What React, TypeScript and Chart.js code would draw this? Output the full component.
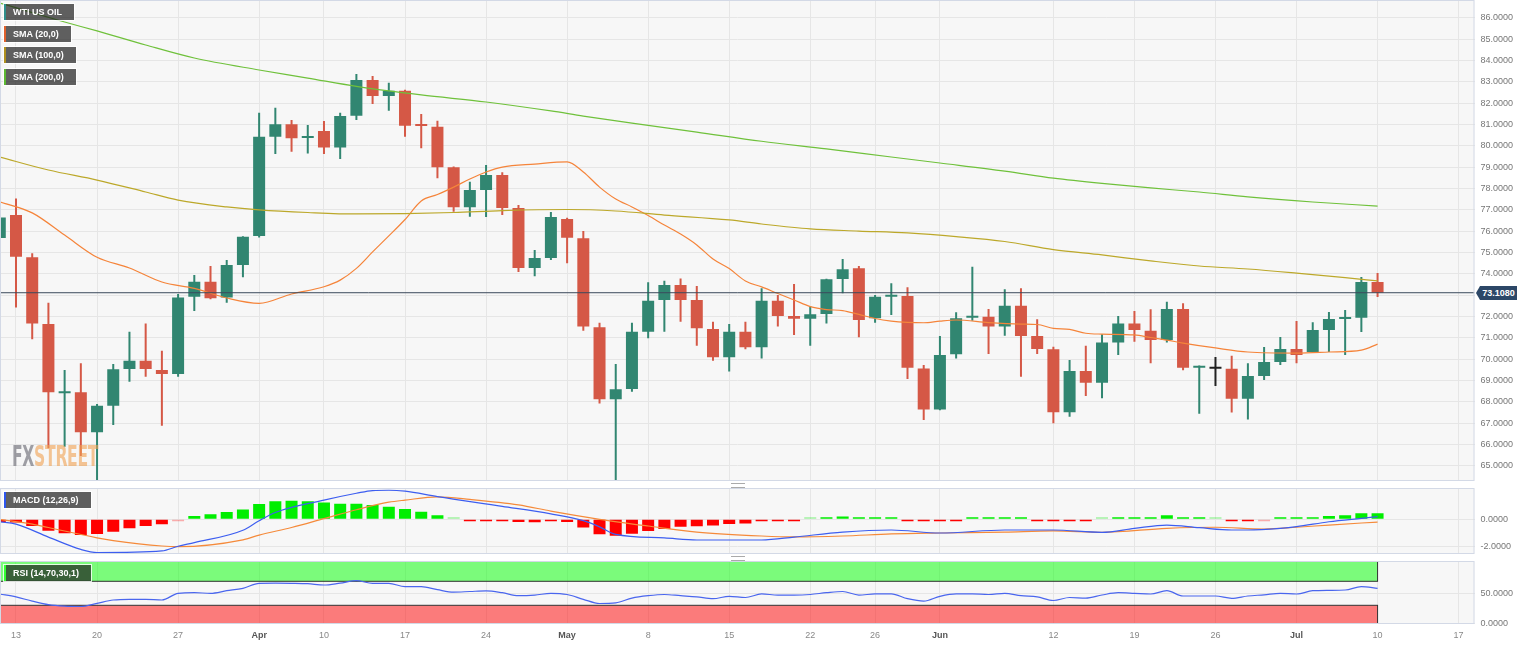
import React, { useEffect, useRef } from "react";
import { Chart, registerables } from "chart.js";

Chart.register(...registerables);

const FONT = "'Liberation Sans', Arial, Helvetica, sans-serif";

// Trading-day index: -1 = Fri 10 Mar 2023, 0 = Mon 13 Mar ... 84 = Mon 10 Jul
const FIRST_INDEX = -1;
const opens = [
  75.67, 76.75, 74.77, 71.64, 68.40, 68.44, 66.57, 67.81, 69.53, 69.92, 69.49,
  69.30, 72.92, 73.62, 72.89, 74.41, 75.77, 80.42, 81.00, 80.36, 80.69, 79.92,
  81.41, 83.08, 82.33, 82.58, 80.96, 80.89, 78.99, 77.11, 77.92, 78.63, 77.08,
  74.27, 74.74, 76.56, 75.66, 71.49, 68.11, 68.60, 71.28, 72.77, 73.47, 72.77,
  71.41, 70.08, 71.28, 70.55, 72.73, 72.02, 71.89, 72.11, 73.75, 74.25, 71.91,
  72.92, 72.95, 69.56, 67.64, 70.22, 71.93, 71.98, 71.52, 72.50, 71.08, 70.46,
  67.50, 69.44, 68.89, 70.78, 71.67, 71.33, 70.89, 72.35, 69.59, 69.55, 69.55,
  68.14, 69.20, 69.86, 70.47, 70.33, 71.36, 71.88, 71.93, 73.61,
];
const highs = [
  77.22, 77.53, 74.96, 72.64, 69.49, 69.80, 67.89, 69.77, 71.28, 71.67, 70.39,
  73.05, 73.94, 74.36, 74.64, 75.76, 81.55, 81.78, 81.20, 80.97, 81.16, 81.55,
  83.36, 83.27, 82.95, 82.62, 81.49, 81.17, 79.02, 78.31, 79.10, 78.76, 77.22,
  75.11, 76.89, 76.62, 76.00, 71.70, 69.77, 71.70, 73.60, 73.67, 73.78, 73.42,
  71.75, 71.64, 71.75, 73.32, 73.00, 73.52, 72.49, 73.76, 74.69, 74.36, 73.00,
  73.55, 73.36, 69.72, 71.08, 72.19, 74.33, 72.35, 73.27, 73.32, 71.86, 70.58,
  69.95, 70.62, 71.16, 72.02, 72.25, 72.33, 72.69, 72.62, 69.70, 70.10, 70.15,
  69.80, 70.56, 71.03, 71.78, 71.73, 72.20, 72.30, 73.85, 74.03,
];
const lows = [
  74.88, 72.41, 70.93, 65.82, 65.89, 65.45, 64.10, 66.91, 68.94, 69.17, 66.87,
  69.17, 72.25, 72.80, 72.64, 73.83, 75.70, 79.61, 79.72, 79.64, 79.61, 79.38,
  81.20, 81.95, 81.64, 80.42, 79.88, 78.47, 76.91, 76.67, 76.66, 76.75, 74.08,
  73.88, 74.64, 74.49, 71.33, 67.92, 63.64, 68.47, 70.97, 71.28, 71.75, 70.62,
  69.92, 69.41, 70.46, 70.03, 71.52, 71.13, 70.62, 71.67, 73.08, 71.02, 71.70,
  72.06, 69.06, 67.14, 67.60, 70.03, 71.80, 70.24, 71.09, 69.17, 70.24, 66.99,
  67.30, 68.27, 68.16, 70.19, 70.81, 69.80, 70.78, 69.48, 67.43, 68.74, 67.49,
  67.17, 69.02, 69.72, 69.80, 70.33, 70.33, 70.19, 71.27, 72.91,
];
const closes = [
  76.63, 74.80, 71.67, 68.44, 68.46, 66.57, 67.81, 69.52, 69.92, 69.53, 69.30,
  72.89, 73.62, 72.85, 74.41, 75.73, 80.42, 81.00, 80.35, 80.45, 79.92, 81.39,
  83.08, 82.33, 82.58, 80.94, 80.92, 78.99, 77.11, 77.92, 78.63, 77.08, 74.27,
  74.74, 76.66, 75.69, 71.52, 68.11, 68.58, 71.28, 72.73, 73.47, 72.77, 71.44,
  70.08, 71.28, 70.55, 72.73, 72.02, 71.89, 72.10, 73.74, 74.21, 71.83, 72.92,
  72.96, 69.59, 67.64, 70.19, 71.91, 71.97, 71.52, 72.50, 71.08, 70.47, 67.50,
  69.44, 68.89, 70.78, 71.67, 71.36, 70.89, 72.35, 69.59, 69.62, 69.55, 68.14,
  69.20, 69.86, 70.47, 70.19, 71.36, 71.88, 71.93, 73.61, 73.108,
];
const LAST_PRICE = 73.108;

const sma20Idx = [
  -1, 1, 3, 5, 7, 9, 11, 13, 15, 17, 19, 20, 21, 22, 23, 24, 25, 26, 27, 28, 29,
  30, 32, 34, 35, 36, 37, 38, 39, 40, 41, 42, 43, 44, 45, 46, 47, 48, 49, 50, 51,
  52, 53, 54, 55, 56, 57, 58, 60, 62, 63, 64, 65, 66, 67, 69, 70, 71, 72, 74, 76,
  79, 81, 83, 84,
];
const sma20Val = [
  77.37, 76.85, 75.81, 74.77, 74.27, 73.61, 73.31, 72.86, 72.61, 73.05, 73.39,
  73.70, 74.25, 75.02, 75.77, 76.54, 77.41, 77.71, 78.06, 78.44, 78.77, 79.0,
  79.14, 79.24, 78.77, 78.06, 77.5, 77.13, 76.73, 76.28, 75.86, 75.35, 74.69,
  74.24, 73.66, 73.38, 73.07, 72.77, 72.46, 72.32, 72.27, 72.09, 71.9, 71.78,
  71.72, 71.7, 71.78, 71.83, 71.71, 71.64, 71.62, 71.44, 71.39, 71.21, 71.17,
  71.13, 71.01, 70.89, 70.75, 70.52, 70.33, 70.28, 70.33, 70.42, 70.7,
];
const sma100Idx = [
  -1, 2, 5, 8, 10, 13, 15, 18, 21, 24, 27, 30, 34, 37, 40, 44, 46, 49, 52, 55,
  58, 61, 64, 67, 70, 73, 76, 79, 82, 84,
];
const sma100Val = [
  79.47, 78.86, 78.39, 77.83, 77.45, 77.13, 76.99, 76.87, 76.8, 76.82, 76.87,
  76.96, 77.01, 76.94, 76.75, 76.52, 76.33, 76.1, 76.0, 75.91, 75.74, 75.51,
  75.13, 74.88, 74.6, 74.36, 74.22, 74.03, 73.82, 73.66,
];
const sma200Idx = [
  -1, 1, 3, 5, 8, 11, 15, 18, 21, 25, 29, 33, 35, 38, 42, 46, 50, 54, 57, 61, 64,
  67, 70, 73, 76, 80, 84,
];
const sma200Val = [
  86.69, 86.24, 85.8, 85.38, 84.72, 84.11, 83.55, 83.17, 82.78, 82.38, 82.05,
  81.63, 81.39, 81.06, 80.64, 80.21, 79.85, 79.47, 79.19, 78.81, 78.48, 78.23,
  78.02, 77.83, 77.6, 77.36, 77.17,
];

const macdHist = [
  -0.2, -0.24, -0.49, -0.83, -1.02, -1.14, -1.07, -0.9, -0.66, -0.49, -0.36,
  -0.03, 0.24, 0.36, 0.54, 0.71, 1.12, 1.31, 1.36, 1.31, 1.22, 1.14, 1.14, 1.05,
  0.92, 0.75, 0.55, 0.3, 0.03, -0.08, -0.12, -0.15, -0.2, -0.22, -0.15, -0.2,
  -0.6, -1.1, -1.2, -1.05, -0.85, -0.7, -0.55, -0.5, -0.45, -0.35, -0.3, -0.15,
  -0.1, -0.05, 0.02, 0.1, 0.2, 0.15, 0.12, 0.1, -0.05, -0.15, -0.12, -0.05, 0.05,
  0.06, 0.08, 0.05, -0.05, -0.12, -0.1, -0.08, 0.03, 0.08, 0.1, 0.1, 0.29, 0.08,
  0.07, 0.03, -0.08, -0.07, -0.03, 0.05, 0.06, 0.12, 0.24, 0.29, 0.44, 0.44,
];
const macdIdx = [
  -1, 0, 2, 4, 5, 9, 10, 11, 14, 15, 16, 19, 21, 22, 23, 24, 26, 30, 33, 35, 36,
  37, 40, 42, 46, 48, 51, 54, 57, 61, 64, 67, 69, 71, 73, 75, 76, 78, 79, 81, 83,
  84,
];
const macdVal = [
  -0.18, -0.35, -1.3, -2.2, -2.43, -2.31, -1.97, -1.7, -0.8, -0.1, 0.5, 1.4, 1.9,
  2.1, 2.12, 2.05, 1.65, 0.95, 0.4, -0.1, -0.55, -1.1, -1.36, -1.51, -1.51, -1.3,
  -0.93, -0.78, -1.0, -0.78, -0.78, -0.95, -0.66, -0.42, -0.61, -0.78, -0.78,
  -0.66, -0.54, -0.18, 0.07, 0.19,
];
const signalIdx = [
  -1, 1, 2, 5, 6, 9, 10, 14, 15, 17, 19, 21, 23, 24, 26, 28, 31, 33, 36, 39, 42,
  46, 48, 51, 54, 57, 61, 64, 67, 71, 74, 77, 79, 81, 84,
];
const signalVal = [
  0.0, -0.35, -0.6, -1.35, -1.55, -1.95, -2.0, -1.5, -1.15, -0.6, 0.05, 0.7, 1.25,
  1.4, 1.63, 1.45, 1.05, 0.6, 0.0, -0.49, -0.93, -1.22, -1.29, -1.22, -1.07,
  -1.0, -0.93, -0.85, -0.95, -0.66, -0.58, -0.71, -0.58, -0.42, -0.2,
];
const rsiVal = [
  48.8, 44, 37, 31, 28.5, 28, 33.3, 38.8, 40, 40, 38.8, 50, 51, 50, 54.3, 58.3,
  66.7, 67, 66.7, 66, 63.8, 67, 71, 66.7, 66.7, 61, 61, 56, 52, 53, 54, 51, 46,
  47, 50, 48, 40, 33, 34, 42, 46, 48, 46, 44, 41, 45, 43, 49, 47, 47, 48, 51, 53,
  47, 49, 49, 41, 37, 45, 49, 49, 48, 50, 46, 44, 38, 43, 42, 47.2, 51, 50, 48.8,
  54.3, 45.5, 45.5, 45.5, 41.7, 45.5, 47.5, 50, 48.8, 54.3, 55, 55.5, 61, 58.3,
];
const RSI_UPPER = 70;
const RSI_LOWER = 30;

const tickIdx = [0, 5, 10, 15, 19, 24, 29, 34, 39, 44, 49, 53, 57, 64, 69, 74, 79, 84, 89];
const tickLabels = ["13", "20", "27", "Apr", "10", "17", "24", "May", "8", "15", "22", "26", "Jun", "12", "19", "26", "Jul", "10", "17"];
const monthLabels = ["Apr", "May", "Jun", "Jul"];
const priceTicks = [65, 66, 67, 68, 69, 70, 71, 72, 73, 74, 75, 76, 77, 78, 79, 80, 81, 82, 83, 84, 85, 86];
const macdTicks = [0, -2];
const rsiTicks = [0, 50];

const X_MIN = -0.987;
const X_MAX = 89.98;
const W = 1536;
const Y_AXIS_W = 61.5;

const GREEN = "#318671";
const RED = "#d55846";

const idxOf = (k: number) => FIRST_INDEX + k;

const panelPlugin = {
  id: "panel",
  beforeDraw(chart: any) {
    const { ctx, chartArea: a } = chart;
    ctx.save();
    ctx.fillStyle = "#f7f7f7";
    ctx.fillRect(a.left, a.top, a.right - a.left, a.bottom - a.top);
    ctx.restore();
  },
  afterDraw(chart: any) {
    const { ctx, chartArea: a } = chart;
    ctx.save();
    ctx.strokeStyle = "#d3d9e6";
    ctx.lineWidth = 1;
    ctx.strokeRect(a.left + 0.5, a.top + 0.5, a.right - a.left - 1, a.bottom - a.top - 1);
    ctx.restore();
  },
};

const bandPlugin = {
  id: "bands",
  beforeDatasetsDraw(chart: any) {
    const { ctx, chartArea: a, scales } = chart;
    const xs = scales.x;
    const ys = scales.y;
    const x0 = a.left + 0.5;
    const x1 = xs.getPixelForValue(idxOf(rsiVal.length - 1));
    const yUp = ys.getPixelForValue(RSI_UPPER);
    const yLo = ys.getPixelForValue(RSI_LOWER);
    ctx.save();
    ctx.fillStyle = "rgba(0,255,0,0.5)";
    ctx.fillRect(x0, a.top, x1 - x0, yUp - a.top);
    ctx.fillStyle = "rgba(255,0,0,0.5)";
    ctx.fillRect(x0, yLo, x1 - x0, a.bottom - yLo);
    ctx.strokeStyle = "#333";
    ctx.lineWidth = 1;
    ctx.strokeRect(x0, a.top + 0.5, x1 - x0, yUp - a.top - 0.5);
    ctx.strokeRect(x0, yLo, x1 - x0, a.bottom - yLo - 0.5);
    ctx.restore();
  },
};

function xAxis(showLabels: boolean) {
  return {
    type: "linear",
    min: X_MIN,
    max: X_MAX,
    offset: false,
    afterBuildTicks: (s: any) => {
      s.ticks = tickIdx.map((v) => ({ value: v }));
    },
    afterFit: (s: any) => {
      s.height = showLabels ? 21 : 0;
      s.paddingLeft = 0;
      s.paddingRight = 0;
    },
    grid: { color: "#e6e6e6", drawTicks: false, offset: false },
    border: { display: false },
    ticks: {
      display: showLabels,
      autoSkip: false,
      maxRotation: 0,
      padding: 6,
      color: (c: any) => (monthLabels.includes(tickLabels[tickIdx.indexOf(c.tick?.value)]) ? "#555" : "#888"),
      font: (c: any) => ({
        family: FONT,
        size: 9,
        weight: monthLabels.includes(tickLabels[tickIdx.indexOf(c.tick?.value)]) ? "bold" : "normal",
      }),
      callback: (v: any) => tickLabels[tickIdx.indexOf(Number(v))] ?? "",
    },
  };
}

function yAxis(min: number, max: number, ticks: number[]) {
  return {
    type: "linear",
    position: "right",
    min,
    max,
    afterBuildTicks: (s: any) => {
      s.ticks = ticks.map((v) => ({ value: v }));
    },
    afterFit: (s: any) => {
      s.width = Y_AXIS_W;
      s.paddingTop = 0;
      s.paddingBottom = 0;
    },
    grid: { color: "#e6e6e6", drawTicks: false },
    border: { display: false },
    ticks: {
      padding: 6,
      color: "#777",
      font: { family: FONT, size: 9 },
      callback: (v: any) => Number(v).toFixed(4),
    },
  };
}

const baseOptions = {
  responsive: false,
  animation: false,
  events: [],
  layout: { padding: 0 },
  plugins: { legend: { display: false }, tooltip: { enabled: false } },
};

function candleColor(k: number) {
  if (closes[k] > opens[k]) return GREEN;
  if (closes[k] < opens[k]) return RED;
  return "#222";
}

function lineSet(idx: number[], val: number[], color: string, order = 0, width = 1.2) {
  return {
    type: "line",
    data: idx.map((x, k) => ({ x, y: val[k] })),
    borderColor: color,
    borderWidth: width,
    pointRadius: 0,
    tension: 0.4,
    cubicInterpolationMode: "monotone",
    order,
  };
}

function mainConfig(): any {
  const colors = opens.map((_, k) => candleColor(k));
  return {
    type: "bar",
    data: {
      datasets: [
        {
          type: "line",
          data: [
            { x: X_MIN, y: LAST_PRICE },
            { x: X_MAX, y: LAST_PRICE },
          ],
          borderColor: "#3b4a5c",
          borderWidth: 1,
          pointRadius: 0,
          order: -1,
        },
        lineSet(sma200Idx, sma200Val, "#6fc13b"),
        lineSet(sma100Idx, sma100Val, "#bca82a"),
        lineSet(sma20Idx, sma20Val, "#f5843a"),
        {
          type: "bar",
          data: opens.map((o, k) => ({ x: idxOf(k), y: [o, closes[k]] })),
          backgroundColor: colors,
          barThickness: 12,
          minBarLength: 2,
          grouped: false,
          inflateAmount: 0,
          clip: 0,
          order: 1,
        },
        {
          type: "bar",
          data: lows.map((l, k) => ({ x: idxOf(k), y: [l, highs[k]] })),
          backgroundColor: colors,
          barThickness: 2,
          grouped: false,
          inflateAmount: 0,
          clip: 0,
          order: 2,
        },
      ],
    },
    options: {
      ...baseOptions,
      scales: {
        x: xAxis(false),
        y: yAxis(64.283, 86.83, priceTicks),
      },
    },
    plugins: [panelPlugin],
  };
}

function macdConfig(): any {
  const histColors = macdHist.map((v) =>
    Math.abs(v) < 0.04 ? (v >= 0 ? "rgba(0,230,0,0.35)" : "rgba(255,0,0,0.3)") : v >= 0 ? "#00ee00" : "#ff0000"
  );
  return {
    type: "bar",
    data: {
      datasets: [
        lineSet(macdIdx, macdVal, "#3d5ef0", 0, 1.2),
        lineSet(signalIdx, signalVal, "#f58a3a", 0, 1.2),
        {
          type: "bar",
          data: macdHist.map((v, k) => ({ x: idxOf(k), y: v })),
          backgroundColor: histColors,
          barThickness: 12,
          minBarLength: 2,
          grouped: false,
          inflateAmount: 0,
          clip: 0,
          order: 1,
        },
      ],
    },
    options: {
      ...baseOptions,
      scales: {
        x: xAxis(false),
        y: yAxis(-2.533, 2.285, macdTicks),
      },
    },
    plugins: [panelPlugin],
  };
}

function rsiConfig(): any {
  return {
    type: "line",
    data: {
      datasets: [
        {
          ...lineSet(rsiVal.map((_, k) => idxOf(k)), rsiVal, "#4a66ee", 0, 1.2),
          tension: 0,
        },
      ],
    },
    options: {
      ...baseOptions,
      scales: {
        x: xAxis(true),
        y: yAxis(-1.17, 103.83, rsiTicks),
      },
    },
    plugins: [panelPlugin, bandPlugin],
  };
}

function ChartCanvas({ top, height, make }: { top: number; height: number; make: () => any }) {
  const ref = useRef<HTMLCanvasElement | null>(null);
  useEffect(() => {
    if (!ref.current) return;
    const chart = new Chart(ref.current, make());
    return () => chart.destroy();
  }, []);
  return (
    <canvas
      ref={ref}
      width={W}
      height={height}
      style={{ position: "absolute", left: 0, top, width: W, height, display: "block" }}
    />
  );
}

const legendStyle = (top: number, width: number, accent: string, bg = "rgba(30,30,30,0.7)"): React.CSSProperties => ({
  position: "absolute",
  left: 4,
  top,
  width,
  height: 16,
  boxSizing: "border-box",
  background: bg,
  borderLeft: `2px solid ${accent}`,
  outline: "1px solid rgba(255,255,255,0.8)",
  color: "#fff",
  font: `bold 9px ${FONT}`,
  lineHeight: "16px",
  paddingLeft: 7,
  whiteSpace: "nowrap",
});

const handleStyle = (top: number): React.CSSProperties => ({
  position: "absolute",
  left: 731,
  top,
  width: 14,
  height: 3,
  borderTop: "1px solid #aaa",
  borderBottom: "1px solid #aaa",
});

export default function App() {
  return (
    <div style={{ position: "absolute", left: 0, top: 0, width: W, height: 645, background: "#fff", overflow: "hidden" }}>
      <ChartCanvas top={0} height={481} make={mainConfig} />
      <ChartCanvas top={488} height={66} make={macdConfig} />
      <ChartCanvas top={561} height={84} make={rsiConfig} />

      <div style={legendStyle(4, 70, "#2f8f8c")}>WTI US OIL</div>
      <div style={legendStyle(26, 67, "#e0602c")}>SMA (20,0)</div>
      <div style={legendStyle(47, 72, "#b0901e")}>SMA (100,0)</div>
      <div style={legendStyle(68.5, 72, "#5cb832")}>SMA (200,0)</div>
      <div style={legendStyle(492, 87, "#2d55ee")}>MACD (12,26,9)</div>
      <div style={legendStyle(565, 87, "#33ff33", "rgba(30,30,30,0.7)")}>RSI (14,70,30,1)</div>

      <div style={handleStyle(483)} />
      <div style={handleStyle(555.5)} />

      <div
        style={{
          position: "absolute",
          left: 12,
          top: 440,
          font: `bold 28px 'DejaVu Sans Condensed', ${FONT}`,
          transform: "scaleX(0.62)",
          transformOrigin: "left top",
          whiteSpace: "nowrap",
          letterSpacing: "-0.5px",
        }}
      >
        <span style={{ color: "rgba(110,110,120,0.65)" }}>FX</span>
        <span style={{ color: "rgba(240,160,80,0.6)" }}>STREET</span>
      </div>

      <div
        style={{
          position: "absolute",
          left: 1476,
          top: 286,
          width: 0,
          height: 0,
          borderTop: "7px solid transparent",
          borderBottom: "7px solid transparent",
          borderRight: "4px solid #2c4767",
        }}
      />
      <div
        style={{
          position: "absolute",
          left: 1480,
          top: 286,
          width: 37,
          height: 14,
          background: "#2c4767",
          color: "#fff",
          font: `bold 9px ${FONT}`,
          lineHeight: "14px",
          textAlign: "center",
        }}
      >
        {LAST_PRICE.toFixed(4)}
      </div>
    </div>
  );
}
